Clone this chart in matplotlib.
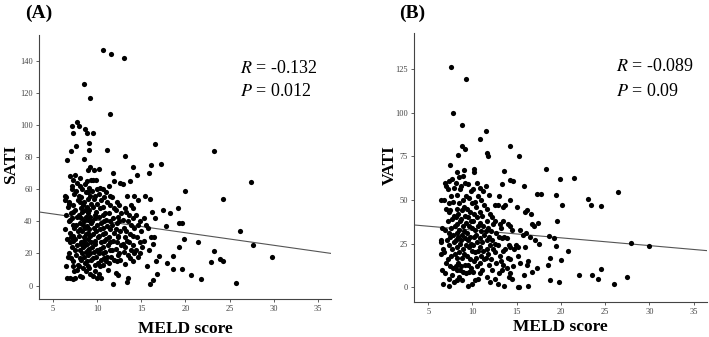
import matplotlib
matplotlib.use("Agg")
import matplotlib.pyplot as plt

plt.rcParams['font.family'] = ['Liberation Serif', 'DejaVu Serif']
plt.rcParams['mathtext.fontset'] = 'stix'

# ---- panel A: SATI vs MELD score (one line per x strip)
sati_meld = [
    6.6, 6.5, 6.4, 6.7, 6.5, 6.8, 6.4, 6.6, 6.9, 6.7, 6.5, 6.6, 6.3, 6.8,
    7.0, 6.9, 7.1, 6.8, 7.0, 6.9, 7.2, 6.9, 7.0, 7.1, 6.8, 7.0, 7.2, 6.9,
    7.1, 7.2, 7.3, 7.1, 7.4, 7.2, 7.3, 7.1, 7.4, 7.2, 7.3, 7.5, 7.2, 7.4, 7.3,
    7.7, 7.6, 7.5, 7.7, 7.6, 7.8, 7.5, 7.7, 7.6, 7.8, 7.5, 7.7, 7.6, 7.8, 7.7, 7.5,
    7.9, 8.0, 8.1, 7.9, 8.0, 8.2, 7.9, 8.1, 8.0, 7.9, 8.2, 8.0, 8.1, 7.9, 8.0,
    8.3, 8.2, 8.4, 8.3, 8.2, 8.4, 8.3, 8.5, 8.2, 8.4, 8.3, 8.2, 8.4, 8.3,
    8.5, 8.6, 8.5, 8.6, 8.7, 8.5, 8.6, 8.7, 8.5, 8.6, 8.7, 8.5, 8.6, 8.7, 8.5, 8.6, 8.7,
    8.8, 8.9, 8.8, 9.0, 8.9, 8.8, 9.0, 8.9, 8.8, 9.0, 8.9, 8.8, 9.0, 8.9, 8.8, 9.0,
    9.2, 9.1, 9.1, 9.2, 9.3, 9.1, 9.2, 9.3, 9.1, 9.2, 9.3, 9.1, 9.2, 9.3, 9.1, 9.2, 9.3, 9.1, 9.2,
    9.5, 9.6, 9.5, 9.4, 9.6, 9.5, 9.7, 9.4, 9.6, 9.5, 9.7, 9.4, 9.6, 9.5, 9.7, 9.5,
    9.9, 10.0, 9.8, 10.0, 9.9, 9.8, 10.0, 9.9, 10.1, 9.8, 10.0, 9.9, 10.1, 9.8, 10.0,
    10.2, 10.3, 10.2, 10.4, 10.3, 10.2, 10.4, 10.3, 10.2, 10.4, 10.3, 10.2, 10.4, 10.3, 10.2, 10.4,
    10.7, 10.6, 10.8, 10.7, 10.6, 10.8, 10.7, 10.6, 10.8, 10.7, 10.6, 10.8, 10.7,
    11.1, 11.0, 11.1, 10.9, 11.0, 11.1, 10.9, 11.0, 11.2, 10.9, 11.1, 11.0, 11.2,
    11.4, 11.3, 11.5, 11.4, 11.3, 11.5, 11.4, 11.3, 11.5, 11.4, 11.6, 11.3,
    11.6, 11.9, 11.8, 11.7, 11.9, 11.8, 11.7, 11.9, 11.8, 11.7, 11.9, 11.8,
    12.2, 12.1, 12.3, 12.2, 12.1, 12.3, 12.2, 12.1, 12.3, 12.2, 12.1,
    12.6, 12.5, 12.7, 12.5, 12.6, 12.4, 12.7, 12.5, 12.6, 12.4,
    13.0, 12.9, 13.1, 12.9, 13.0, 13.1, 12.9, 13.0, 13.2,
    13.2, 13.4, 13.3, 13.5, 13.3, 13.4, 13.2, 13.5, 13.4, 13.5,
    13.7, 13.8, 13.6, 13.8, 13.7, 13.6, 13.8, 13.7,
    14.0, 14.2, 14.1, 14.0, 14.2, 14.1, 14.0, 14.2, 14.1,
    14.5, 14.6, 14.4, 14.6, 14.5, 14.4, 14.6,
    14.9, 15.0, 14.8, 15.1, 14.9,
    15.4, 15.3, 15.5, 15.3, 15.6,
    15.9, 16.0, 15.8, 16.1, 15.9,
    16.1, 16.2, 16.3, 16.0, 16.3,
    16.5, 16.6, 16.4, 16.7, 16.8,
    17.2, 17.5, 18.2, 17.0, 17.8, 17.9, 18.6, 18.6, 19.2, 19.3, 19.6, 19.3,
    19.8, 19.6, 19.9, 20.6, 21.4, 21.8, 22.9, 23.2, 23.2, 23.9, 24.3, 24.2,
    25.7, 26.2, 27.4, 27.6, 29.8,
]
sati_val = [
    78, 55, 53, 49, 44, 40, 35, 29, 27, 18, 12, 4.6, 56, 51,
    84, 68, 60, 52, 45, 41, 38, 33, 30, 24, 20, 17, 12, 5,
    99.6, 95, 66, 62, 57, 50, 46, 42, 36, 31, 28, 22, 15, 9, 4,
    102, 87, 69, 64, 59, 53, 47, 43, 38, 34, 29, 25, 19, 13, 10, 5,
    99.5, 67, 62, 56, 52, 48, 44, 39, 35, 31, 26, 22, 17, 12, 6,
    60, 55, 50, 46, 42, 38, 34, 30, 27, 24, 20, 16, 11, 5.5,
    125.5, 97.5, 79, 63, 58, 52, 47, 43, 40, 36, 32, 28, 25, 21, 18, 14, 9,
    95, 72, 65, 58, 54, 49, 45, 41, 37, 33, 29, 26, 22, 19, 15, 12,
    117, 89, 84.6, 74, 66, 61, 56, 51, 47, 43, 39, 35, 31, 27, 23, 20, 16, 11, 7,
    95, 72, 66, 59, 54, 49, 44, 40, 36, 32, 28, 24, 21, 17, 13, 6,
    66, 60, 56, 51, 46, 42, 38, 34, 30, 26, 22, 18, 14, 9, 5,
    72.5, 61, 57, 53, 48, 43, 39, 35, 31, 27, 23, 20, 16, 12, 7, 4.5,
    147, 60, 55, 49, 44, 40, 36, 32, 28, 24, 20, 17, 13,
    84.4, 58, 52, 45, 41, 37, 33, 29, 25, 21, 18, 15, 10,
    107, 62, 56, 50, 45, 40, 35, 30, 27, 22, 18, 14,
    144.5, 65, 70, 55, 48, 42, 38, 33, 28, 22, 16, 1,
    52, 47, 43, 39, 35, 31, 27, 23, 19, 15, 8,
    64, 50, 45, 40, 34, 30, 25, 20, 16, 6.6,
    142, 63, 48, 41, 36, 30, 26, 21, 13.5,
    81, 56, 46, 40, 34, 28, 24, 19, 2, 5,
    65, 50, 44, 38, 32, 27, 22, 17,
    74, 56, 48, 42, 36, 31, 25, 20, 15,
    69, 53, 44, 38, 30, 22, 18,
    40, 34, 27, 24, 20,
    56, 42, 38, 28, 12,
    70, 54, 36, 30, 22,
    75, 46, 26, 0.8, 3.5,
    88, 42, 30, 15, 7,
    76, 46.8, 45, 18.5, 36.8, 13.9, 18.7, 10.6, 48, 38.9, 38.9, 24.3,
    28.9, 10.6, 59.2, 6.9, 27, 4.4, 14.6, 83.6, 21.6, 16.6, 15.6, 54,
    1.5, 34.3, 64.2, 25.2, 18.1,
]
sati_fit = (48.5, -0.78)   # intercept, slope of the drawn line
sati_stats = ("-0.132", "0.012")
sati_yticks = [0, 20, 40, 60, 80, 100, 120, 140]

# ---- panel B: VATI vs MELD score
vati_meld = [
    6.5, 6.6, 6.4, 6.7, 6.5, 6.6, 6.7, 6.4,
    6.9, 7.0, 6.8, 7.0, 6.9, 7.1, 6.8, 7.0, 6.9,
    7.3, 7.2, 7.4, 7.3, 7.2, 7.4, 7.3, 7.2, 7.4, 7.4,
    7.6, 7.5, 7.7, 7.6, 7.5, 7.7, 7.6, 7.5, 7.7, 7.6, 7.5, 7.7,
    7.8, 7.9, 7.8, 7.9, 8.0, 7.8, 7.9, 8.0, 7.8, 7.9,
    8.2, 8.1, 8.3, 8.2, 8.1, 8.3, 8.2, 8.1, 8.3, 8.2, 8.1, 8.3, 8.2,
    8.4, 8.5, 8.6, 8.5, 8.4, 8.6, 8.5, 8.4, 8.6, 8.5, 8.4, 8.6, 8.5,
    8.8, 8.8, 8.9, 8.7, 8.9, 8.8, 8.7, 8.9, 8.8, 8.7, 8.9, 8.8, 8.7, 8.9, 8.8,
    9.3, 9.2, 9.1, 9.2, 9.3, 9.1, 9.2, 9.3, 9.1, 9.2, 9.3, 9.1, 9.2, 9.3,
    9.5, 9.6, 9.4, 9.5, 9.6, 9.4, 9.5, 9.6, 9.4, 9.5, 9.6, 9.5,
    9.8, 9.9, 9.7, 9.8, 9.9, 9.7, 9.8, 9.9, 9.7, 9.8, 9.9,
    10.2, 10.2, 10.1, 10.3, 10.2, 10.1, 10.3, 10.2, 10.1, 10.3, 10.2, 10.1, 10.3,
    10.5, 10.6, 10.4, 10.5, 10.6, 10.4, 10.5, 10.6, 10.4, 10.5, 10.6,
    10.9, 10.8, 11.0, 10.9, 10.8, 11.0, 10.9, 10.8, 11.0, 10.9, 10.8,
    11.2, 11.3, 11.1, 11.2, 11.3, 11.1, 11.2, 11.3, 11.1,
    11.5, 11.6, 11.5, 11.6, 11.7, 11.5, 11.6, 11.7, 11.5, 11.6,
    11.8, 11.9, 12.0, 11.8, 11.9, 12.0, 11.8, 11.9, 12.0,
    12.2, 12.3, 12.1, 12.2, 12.3, 12.1, 12.2,
    12.6, 12.5, 12.7, 12.6, 12.5, 12.7, 12.6,
    13.0, 12.9, 13.1, 13.0, 12.9, 13.1, 13.0, 12.9,
    13.3, 13.4, 13.2, 13.3, 13.4, 13.2, 13.3,
    13.6, 13.7, 13.5, 13.6, 13.7, 13.5, 13.6,
    14.0, 13.9, 14.1, 14.0, 13.9, 14.1,
    14.2, 14.3, 14.2, 14.3, 14.2, 14.3, 14.2,
    14.6, 14.5, 14.7, 14.6, 14.5,
    15.0, 14.9, 15.1, 15.1,
    15.3, 15.4, 15.2, 15.4, 15.3,
    15.8, 15.9, 15.7, 15.9, 15.8,
    16.2, 16.1, 16.3, 16.2, 16.3,
    16.6, 16.7, 16.5, 16.7,
    17.0, 17.1,
    17.4, 17.5, 17.3,
    17.3, 17.8, 18.3, 18.5, 18.6, 18.8, 18.8, 19.2, 19.4, 19.4, 19.6, 19.8,
    19.9, 20.0, 20.1, 20.8, 21.5, 22.1, 23.1, 23.4, 23.5, 24.2, 24.5, 24.5,
    26.0, 26.4, 27.5, 27.9, 30.0,
]
vati_val = [
    50, 34, 27, 22, 19, 10, 2, 26,
    60, 58, 50, 45, 33, 27, 20, 14, 8,
    61, 56, 48, 43, 38, 31, 24, 16, 5, 0.5,
    126, 70, 62, 52, 44, 39, 34, 29, 22, 18, 12, 7,
    99.6, 57, 49, 41, 35, 30, 26, 19, 11, 3,
    66, 60, 53, 45, 40, 36, 31, 27, 23, 17, 12, 10, 4,
    75.6, 63, 56, 48, 42, 38, 33, 29, 25, 20, 14, 10, 6,
    93, 80.8, 64, 58, 50, 44, 39, 35, 30, 27, 22, 17, 12, 9, 4,
    119, 79.3, 67, 60, 52, 46, 41, 37, 32, 28, 24, 19, 13, 8,
    59, 51, 45, 40, 35, 31, 27, 23, 18, 13, 9, 1,
    55, 48, 43, 38, 34, 29, 25, 21, 16, 11, 2,
    67.5, 66, 56, 49, 42, 38, 33, 29, 24, 20, 15, 9, 4,
    60, 52, 46, 40, 35, 30, 26, 21, 17, 12, 5,
    84.8, 57, 50, 43, 37, 32, 28, 23, 18, 14, 8,
    55, 47, 41, 35, 30, 26, 21, 16, 10,
    89.4, 76.8, 58, 45, 38, 32, 27, 22, 17, 6,
    75.2, 53, 42, 34, 29, 24, 19, 13, 3,
    40, 36, 32, 27, 22, 16, 10,
    47, 38, 31, 25, 20, 14, 5,
    52, 47, 36, 29, 24, 18, 8, 2,
    59, 46, 34, 28, 21, 15, 10,
    66.8, 47, 38, 29, 22, 13, 1,
    36, 28, 24, 17, 11, 6,
    80.8, 61.6, 50, 35, 23, 16, 8,
    61, 33, 22, 12, 5,
    46, 24, 18, 0.2,
    75, 33, 23, 14, 0,
    58, 43, 30, 23, 7,
    44, 31, 15, 13, 0.5,
    42, 36, 29, 9,
    35, 27,
    37, 25, 11,
    53.7, 53.7, 67.6, 12.5, 29.2, 17, 4, 28.2, 52.8, 23.4, 38.2, 2.9,
    62.2, 15.4, 47.4, 20.5, 62.8, 7.1, 50.7, 47, 7.1, 4.8, 46.4, 10.7,
    1.9, 54.5, 6, 25.3, 23.8,
]
vati_fit = (37.2, -0.444)
vati_stats = ("-0.089", "0.09")
vati_yticks = [0, 25, 50, 75, 100, 125]

xticks = [5, 10, 15, 20, 25, 30, 35]


def panel(ax, x, y, fit, stats, ylabel, yticks, ylim, lab_x, lab_y):
    ax.scatter(x, y, s=14, color='black', linewidths=0, zorder=3)
    ax.axline((0, fit[0]), slope=fit[1], color='#555555', lw=0.8, zorder=2)
    ax.set_xlim(3.4, 36.5)
    ax.set_ylim(*ylim)
    ax.set_xticks(xticks)
    ax.set_yticks(yticks)
    for s in ['top', 'right']:
        ax.spines[s].set_visible(False)
    for s in ['left', 'bottom']:
        ax.spines[s].set_color('#444444')
        ax.spines[s].set_linewidth(0.8)
    ax.tick_params(labelsize=6, length=2.5, width=0.6, colors='#444444', pad=2)
    ax.set_xlabel('MELD score', fontsize=12.5, fontweight='bold', va='center')
    ax.xaxis.set_label_coords(0.5, lab_y)
    ax.set_ylabel(ylabel, fontsize=12.5, fontweight='bold', va='center')
    ax.yaxis.set_label_coords(lab_x, 0.51)
    ax.text(0.688, 0.875, r'$\mathit{R}$ = ' + stats[0], transform=ax.transAxes,
            fontsize=13, va='center', ha='left')
    ax.text(0.688, 0.785, r'$\mathit{P}$ = ' + stats[1], transform=ax.transAxes,
            fontsize=13, va='center', ha='left')


fig = plt.figure(figsize=(7.09, 3.37), dpi=100)
axA = fig.add_axes([0.055, 0.113, 0.412, 0.783])
axB = fig.add_axes([0.584, 0.105, 0.413, 0.796])

panel(axA, sati_meld, sati_val, sati_fit, sati_stats, 'SATI', sati_yticks,
      (-8.3, 156), -0.095, -0.115)
panel(axB, vati_meld, vati_val, vati_fit, vati_stats, 'VATI', vati_yticks,
      (-8.2, 145.4), -0.082, -0.095)

fig.text(0.035, 0.96, '(A)', fontsize=14, fontweight='bold', va='center', ha='left')
fig.text(0.563, 0.96, '(B)', fontsize=14, fontweight='bold', va='center', ha='left')

fig.savefig('out.png', dpi=100)
